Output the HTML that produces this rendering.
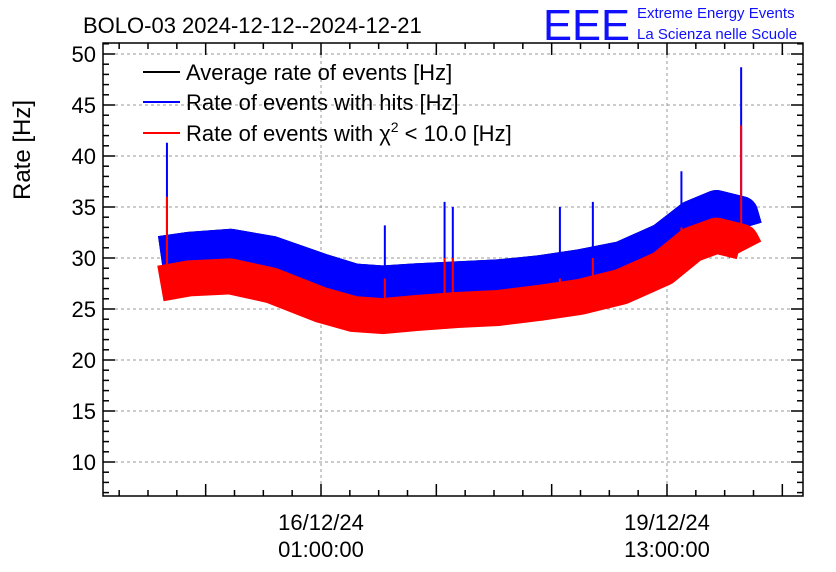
<!DOCTYPE html>
<html><head><meta charset="utf-8"><style>
body{margin:0;background:#fff;}
svg{display:block;font-family:"Liberation Sans",sans-serif;}
</style></head><body>
<svg id="c" width="836" height="572" viewBox="0 0 836 572">
<text x="83" y="33" font-size="22">BOLO-03 2024-12-12--2024-12-21</text>
<text x="543" y="40" font-size="44" fill="#1010ff" textLength="87" lengthAdjust="spacingAndGlyphs">EEE</text>
<text x="637" y="18" font-size="15" fill="#1010ff">Extreme Energy Events</text>
<text x="637" y="39" font-size="15" fill="#1010ff">La Scienza nelle Scuole</text>
<text transform="translate(30,150) rotate(-90)" text-anchor="middle" font-size="24">Rate [Hz]</text>
<g id="grid"></g><g id="series"></g><g id="axes"></g>
<g>
<line x1="143" y1="72" x2="180" y2="72" stroke="#000" stroke-width="2"/>
<text x="186" y="80" font-size="22">Average rate of events [Hz]</text>
<line x1="143" y1="102" x2="180" y2="102" stroke="#00f" stroke-width="2"/>
<text x="186" y="110" font-size="22">Rate of events with hits [Hz]</text>
<line x1="143" y1="133" x2="180" y2="133" stroke="#f00" stroke-width="2"/>
<text x="186" y="141" font-size="22">Rate of events with χ<tspan font-size="14" dy="-9">2</tspan><tspan dy="9"> &lt; 10.0 [Hz]</tspan></text>
</g>
</svg>
<script>
// hours since 2024-12-12 00:00
const times=[58,65,75,85,97,105,112,120,130,140,150,160,170,180,187,193,199,200];
const avgRate=[30.5,30.9,31.2,30.5,28.8,27.8,27.6,27.8,28.0,28.2,28.6,29.2,30.0,31.8,34.0,35.0,34.4,33.0];
const hitsRate=[30.5,30.9,31.2,30.5,28.8,27.8,27.6,27.8,28.0,28.2,28.6,29.2,30.0,31.8,34.0,35.0,34.4,33.0];
const chi2Rate=[27.5,28.0,28.2,27.3,25.4,24.5,24.3,24.6,24.9,25.1,25.6,26.2,27.2,29.0,31.3,32.2,31.6,30.8];
const spikeTimes=[59.6,112.5,127,129,155,163,184.5,199];
const spikeHits=[41.3,33.2,35.5,35.0,35.0,35.5,38.5,48.7];
const spikeChi2=[36.0,28.0,30.0,30.0,28.0,30.0,33.0,43.0];
const yTicks=[10,15,20,25,30,35,40,45,50];
const xTicks=[69,97,125,153,181,209];
const xLabelTimes=[97,181];
const xLabels=[["16/12/24","01:00:00"],["19/12/24","13:00:00"]];

const L=103,R=803,T=43,B=496;
const X=t=>321+(t-97)*(346/84);
const Y=v=>54+(50-v)*10.2;
const NS="http://www.w3.org/2000/svg";
function interp(vals,t){for(let i=1;i<times.length;i++){if(t<=times[i]){const f=(t-times[i-1])/(times[i]-times[i-1]);return vals[i-1]+f*(vals[i]-vals[i-1]);}}return vals[vals.length-1];}
function mk(tag,attrs,parent){const e=document.createElementNS(NS,tag);for(const k in attrs)e.setAttribute(k,attrs[k]);parent.appendChild(e);return e;}
const grid=document.getElementById('grid'),ser=document.getElementById('series'),ax=document.getElementById('axes');
yTicks.forEach(v=>{const g=mk('line',{x1:L,x2:R,y1:Y(v),y2:Y(v),stroke:'#999','stroke-dasharray':'3,3'},grid);

});
xLabelTimes.forEach(t=>{const g=mk('line',{x1:X(t),x2:X(t),y1:T,y2:B,stroke:'#999','stroke-dasharray':'3,3'},grid);

});
function band(vals,color,w,name){
 const d=times.map((t,i)=>(i?'L':'M')+X(t).toFixed(1)+','+Y(vals[i]).toFixed(1)).join('');
 const p=mk('path',{d:d,fill:'none',stroke:color,'stroke-width':w,'stroke-linejoin':'round','stroke-linecap':'butt'},ser);
 
 
}
band(avgRate,'#000',34,'average-rate-series');
band(hitsRate,'#00f',34,'hits-rate-series');
spikeTimes.forEach((t,i)=>{const s=mk('line',{x1:X(t),x2:X(t),y1:Y(spikeHits[i]),y2:Y(interp(hitsRate,t)),stroke:'#00f','stroke-width':2},ser);

});
band(chi2Rate,'#f00',36,'chi2-rate-series');
spikeTimes.forEach((t,i)=>{const s=mk('line',{x1:X(t),x2:X(t),y1:Y(spikeChi2[i]),y2:Y(interp(chi2Rate,t)),stroke:'#f00','stroke-width':2},ser);

});
const fr=mk('rect',{x:L,y:T,width:R-L,height:B-T,fill:'none',stroke:'#000','stroke-width':1.5},ax);


for(let v=7;v<=51;v++){const maj=v%5===0,len=maj?12:6;
 mk('line',{x1:L,x2:L+len,y1:Y(v),y2:Y(v),stroke:'#000','stroke-width':1.5},ax);
 mk('line',{x1:R,x2:R-len,y1:Y(v),y2:Y(v),stroke:'#000','stroke-width':1.5},ax);}
yTicks.forEach(v=>{const t=mk('text',{x:96,y:Y(v)+8,'text-anchor':'end','font-size':22},ax);t.textContent=v;

});
for(let t=48;t<=213;t+=7){const maj=xTicks.includes(t),len=maj?12:6;if(X(t)<L||X(t)>R)continue;
 mk('line',{x1:X(t),x2:X(t),y1:B,y2:B-len,stroke:'#000','stroke-width':1.5},ax);
 mk('line',{x1:X(t),x2:X(t),y1:T,y2:T+len,stroke:'#000','stroke-width':1.5},ax);}
xLabelTimes.forEach((t,i)=>{[0,1].forEach(j=>{const e=mk('text',{x:X(t),y:530+j*27,'text-anchor':'middle','font-size':22},ax);e.textContent=xLabels[i][j];

});});
</script>
</body></html>
